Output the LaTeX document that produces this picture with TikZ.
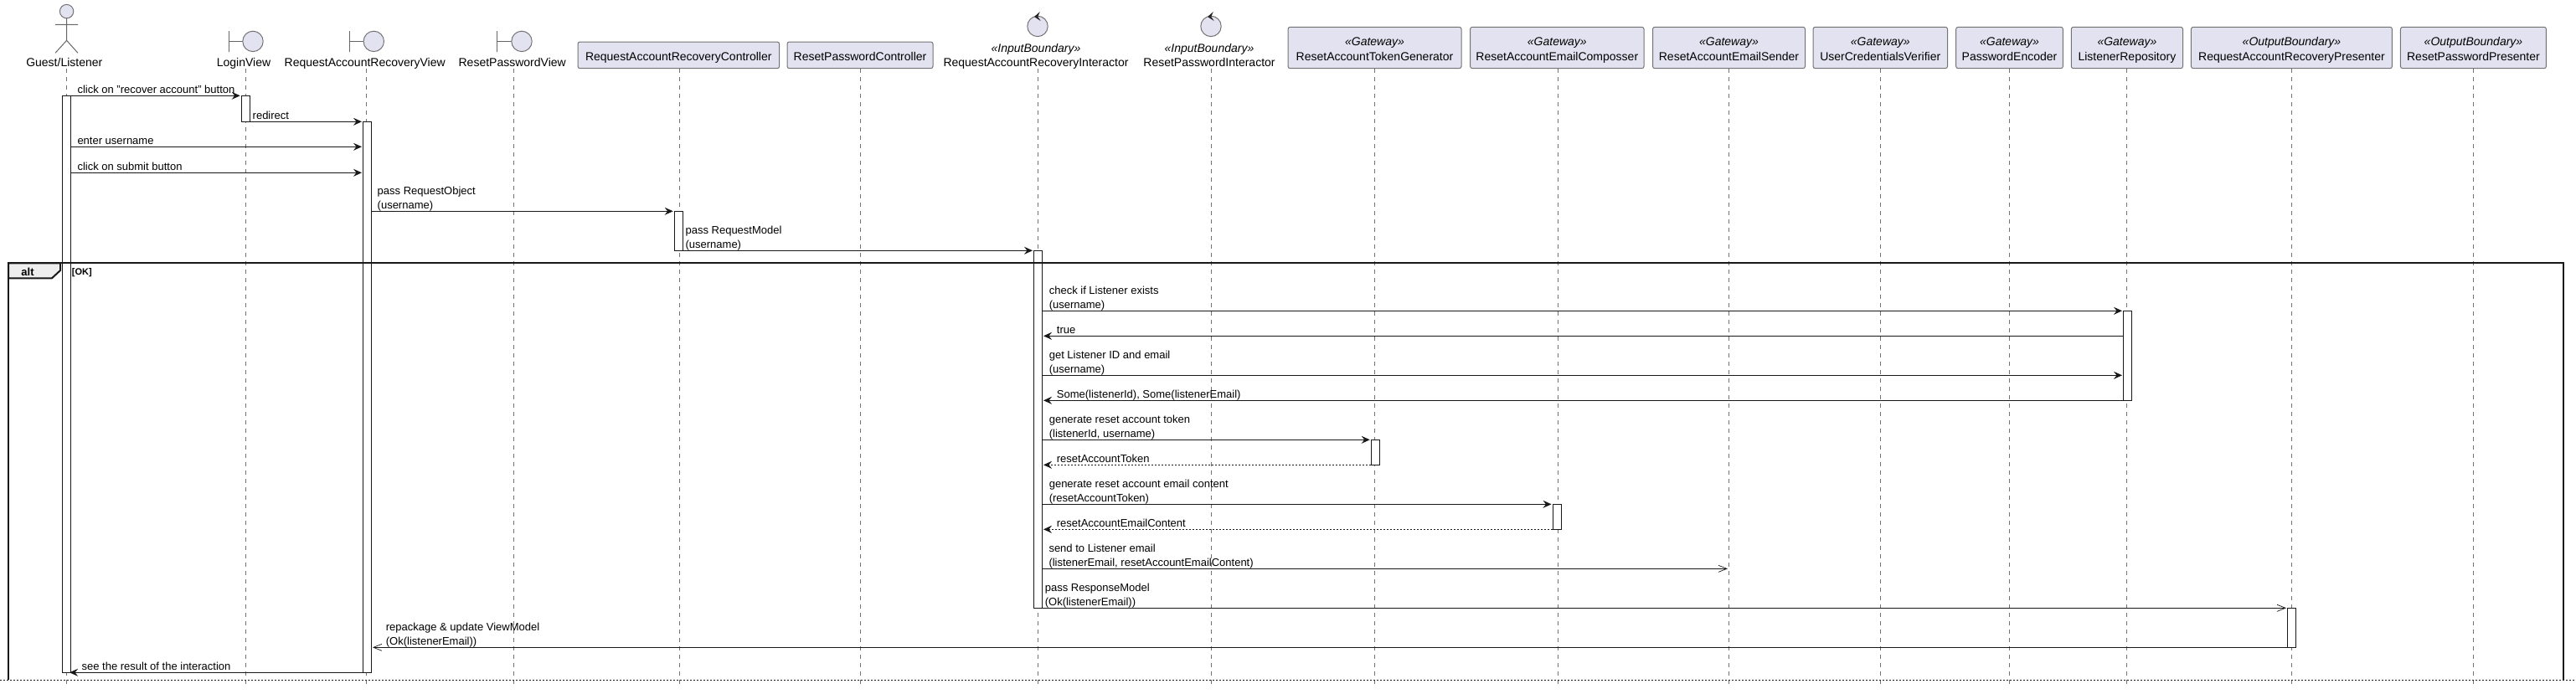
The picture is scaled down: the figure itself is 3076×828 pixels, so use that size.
\documentclass[tikz,border=0pt]{standalone}
\usepackage{fontspec}
\setmainfont{Liberation Sans}
\usetikzlibrary{arrows.meta, positioning}

\definecolor{partfill}{HTML}{E2E2F0}
\definecolor{inkline}{HTML}{181818}
\definecolor{tabfill}{HTML}{EEEEEE}

\tikzset{
    partbox/.style={draw=black!55, line width=1pt, fill=partfill, rounded corners=2.5pt, inner sep=0pt, align=center,
        text depth=2pt, font=\fontsize{14}{18}\selectfont},
    plainbox/.style={partbox, minimum height=31.7pt, text height=14.3pt},
    gatebox/.style={partbox, minimum height=49.4pt, text height=32pt},
    partlabel/.style={anchor=south, inner sep=0pt, align=center, font=\fontsize{14}{17}\selectfont,
        execute at end node=\strut},
    glyph/.style={draw=black!55, line width=1pt, fill=partfill},
    glyphline/.style={draw=black!60, line width=1pt},
    lifeline/.style={draw=black!55, line width=0.8pt, dash pattern=on 5pt off 5pt},
    actbar/.style={draw=inkline, line width=1pt, fill=white, minimum width=10pt, inner sep=0pt},
    syncmsg/.style={draw=inkline, line width=1pt, -{Stealth[length=10pt,width=9pt,inset=3.5pt]}, shorten >=1pt},
    replymsg/.style={syncmsg, dash pattern=on 2pt off 2pt},
    openmsg/.style={draw=inkline, line width=1pt, -{Straight Barb[length=10pt,width=8pt,line width=0.7pt]}, shorten >=1pt},
    msglabel/.style={anchor=south west, inner sep=0pt, align=left, yshift=-1.5pt, font=\fontsize{13}{16.9}\selectfont,
        execute at end node=\strut},
}

\begin{document}
\begin{tikzpicture}[x=1pt, y=-1pt]
    \useasboundingbox (0,0) rectangle (3076,828);

    % Lifeline ends
    \coordinate (lifeEnd) at (0,817);
    \coordinate (lGuest) at (79.6,82);
    \coordinate (lLogin) at (293,82);
    \coordinate (lView) at (437,82);
    \coordinate (lResetView) at (613,82);
    \coordinate (lCtrl) at (811,82);
    \coordinate (lResetCtrl) at (1027.5,82);
    \coordinate (lInter) at (1239,82);
    \coordinate (lResetInter) at (1446,82);
    \coordinate (lToken) at (1641,82);
    \coordinate (lComposer) at (1860,82);
    \coordinate (lSender) at (2064,82);
    \coordinate (lVerifier) at (2245,82);
    \coordinate (lEncoder) at (2399.5,82);
    \coordinate (lRepo) at (2539.2,82);
    \coordinate (lPres) at (2736.6,82);
    \coordinate (lResetPres) at (2953.4,82);

    % Lifelines
    \draw[lifeline] (lGuest) -- (lGuest |- lifeEnd);
    \draw[lifeline] (lLogin) -- (lLogin |- lifeEnd);
    \draw[lifeline] (lView) -- (lView |- lifeEnd);
    \draw[lifeline] (lResetView) -- (lResetView |- lifeEnd);
    \draw[lifeline] (lCtrl) -- (lCtrl |- lifeEnd);
    \draw[lifeline] (lResetCtrl) -- (lResetCtrl |- lifeEnd);
    \draw[lifeline] (lInter) -- (lInter |- lifeEnd);
    \draw[lifeline] (lResetInter) -- (lResetInter |- lifeEnd);
    \draw[lifeline] (lToken) -- (lToken |- lifeEnd);
    \draw[lifeline] (lComposer) -- (lComposer |- lifeEnd);
    \draw[lifeline] (lSender) -- (lSender |- lifeEnd);
    \draw[lifeline] (lVerifier) -- (lVerifier |- lifeEnd);
    \draw[lifeline] (lEncoder) -- (lEncoder |- lifeEnd);
    \draw[lifeline] (lRepo) -- (lRepo |- lifeEnd);
    \draw[lifeline] (lPres) -- (lPres |- lifeEnd);
    \draw[lifeline] (lResetPres) -- (lResetPres |- lifeEnd);

    % Actor
    \draw[glyph] (79.6,13.6) circle (8.2);
    \draw[glyphline] (79.6,21.8) -- (79.6,48.3) (66,29.3) -- (93,29.3) (66,63.3) -- (79.6,48.3) -- (93,63.3);
    \node[partlabel] (nGuest) at (76.8,85.1) {Guest/Listener};

    % Boundaries
    \draw[glyphline] (273,37) -- (273,61.7) (273,49.4) -- (290,49.4);
    \draw[glyph] (302,49.4) circle (12.2);
    \node[partlabel] (nLogin) at (291,85.1) {LoginView};
    \draw[glyphline] (417,37) -- (417,61.7) (417,49.4) -- (434,49.4);
    \draw[glyph] (446.3,49.4) circle (12.2);
    \node[partlabel] (nView) at (435.7,85.1) {RequestAccountRecoveryView};
    \draw[glyphline] (593,37) -- (593,61.7) (593,49.4) -- (611,49.4);
    \draw[glyph] (623,49.4) circle (12.2);
    \node[partlabel] (nResetView) at (611.7,85.1) {ResetPasswordView};

    % Controls
    \draw[glyph] (1239,31.4) circle (12.2);
    \fill[black!85] (1241.7,14) -- (1235,20) -- (1242.7,25) -- (1239.3,20) -- cycle;
    \node[partlabel] (nInter) at (1237,85.1) {\textit{«InputBoundary»}\\RequestAccountRecoveryInteractor};
    \draw[glyph] (1446,31.4) circle (12.2);
    \fill[black!85] (1448.7,14) -- (1442,20) -- (1449.7,25) -- (1446.3,20) -- cycle;
    \node[partlabel] (nResetInter) at (1444,85.1) {\textit{«InputBoundary»}\\ResetPasswordInteractor};

    % Controllers
    \node[plainbox, minimum width=240.6pt] (nCtrl) at (810.3,65.85) {RequestAccountRecoveryController};
    \node[plainbox, minimum width=174pt] (nResetCtrl) at (1027,65.85) {ResetPasswordController};

    % Gateways
    \node[gatebox, minimum width=207pt] (nToken) at (1641.5,57) {\textit{«Gateway»}\\ResetAccountTokenGenerator};
    \node[gatebox, minimum width=207.4pt] (nComposer) at (1859.3,57) {\textit{«Gateway»}\\ResetAccountEmailComposser};
    \node[gatebox, minimum width=182pt] (nSender) at (2064.5,57) {\textit{«Gateway»}\\ResetAccountEmailSender};
    \node[gatebox, minimum width=160.5pt] (nVerifier) at (2245.25,57) {\textit{«Gateway»}\\UserCredentialsVerifier};
    \node[gatebox, minimum width=127.7pt] (nEncoder) at (2399.5,57) {\textit{«Gateway»}\\PasswordEncoder};
    \node[gatebox, minimum width=133.2pt] (nRepo) at (2539.9,57) {\textit{«Gateway»}\\ListenerRepository};

    % Presenters
    \node[gatebox, minimum width=240pt] (nPres) at (2736.45,57) {\textit{«OutputBoundary»}\\RequestAccountRecoveryPresenter};
    \node[gatebox, minimum width=174pt] (nResetPres) at (2953.45,57) {\textit{«OutputBoundary»}\\ResetPasswordPresenter};

    % Activation bars
    \node[actbar, minimum height=689pt] (barGuest) at (79.6,458.8) {};
    \node[actbar, minimum height=31pt] (barLogin) at (293.2,129.8) {};
    \node[actbar, minimum height=658pt] (barView) at (438.5,474.3) {};
    \node[actbar, minimum height=47pt] (barCtrl) at (810.2,275.8) {};
    \node[actbar, minimum height=427pt] (barInter) at (1239.5,512.8) {};
    \node[actbar, minimum height=107pt] (barRepo) at (2540.5,424.8) {};
    \node[actbar, minimum height=30pt] (barToken) at (1642.2,540.3) {};
    \node[actbar, minimum height=30pt] (barComposer) at (1859,617.3) {};
    \node[actbar, minimum height=47pt] (barPres) at (2736.5,749.8) {};

    % Alt frame
    \draw[draw=inkline, line width=2pt, fill=tabfill] (10,332.3) -- (10,314.3) -- (72,314.3) -- (72,323) -- (62,332.3) -- cycle;
    \draw[draw=inkline, line width=2pt] (10,812) -- (10,314.3) -- (3060.8,314.3) -- (3060.8,812);
    \draw[draw=inkline, line width=1pt, dash pattern=on 2pt off 2pt] (0,812) -- (3076,812);
    \node[anchor=base, inner sep=0pt, font=\fontsize{13}{15}\selectfont\bfseries] (altTitle) at (33,329) {alt};
    \node[anchor=base west, inner sep=0pt, font=\fontsize{11}{13}\selectfont\bfseries] (altGuard) at (85.7,328) {[OK]};

    % Message rows
    \coordinate (mClick) at (0,114.3);
    \coordinate (mRedirect) at (0,145.3);
    \coordinate (mEnter) at (0,175.3);
    \coordinate (mSubmit) at (0,206.3);
    \coordinate (mObject) at (0,252.3);
    \coordinate (mModel) at (0,299.3);
    \coordinate (mCheck) at (0,371.3);
    \coordinate (mTrue) at (0,401.3);
    \coordinate (mGet) at (0,448.3);
    \coordinate (mSome) at (0,478.3);
    \coordinate (mGenToken) at (0,525.3);
    \coordinate (mToken) at (0,555.3);
    \coordinate (mGenMail) at (0,602.3);
    \coordinate (mMail) at (0,632.3);
    \coordinate (mSend) at (0,679.3);
    \coordinate (mResponse) at (0,726.3);
    \coordinate (mRepack) at (0,773.3);
    \coordinate (mResult) at (0,803.3);

    % Messages
    \draw[syncmsg] (barGuest.east |- mClick) -- (barLogin.west |- mClick);
    \draw[syncmsg] (barLogin.east |- mRedirect) -- (barView.west |- mRedirect);
    \draw[syncmsg] (barGuest.east |- mEnter) -- (barView.west |- mEnter);
    \draw[syncmsg] (barGuest.east |- mSubmit) -- (barView.west |- mSubmit);
    \draw[syncmsg] (barView.east |- mObject) -- (barCtrl.west |- mObject);
    \draw[syncmsg] (barCtrl.east |- mModel) -- (barInter.west |- mModel);
    \draw[syncmsg] (barInter.east |- mCheck) -- (barRepo.west |- mCheck);
    \draw[syncmsg] (barRepo.west |- mTrue) -- (barInter.east |- mTrue);
    \draw[syncmsg] (barInter.east |- mGet) -- (barRepo.west |- mGet);
    \draw[syncmsg] (barRepo.west |- mSome) -- (barInter.east |- mSome);
    \draw[syncmsg] (barInter.east |- mGenToken) -- (barToken.west |- mGenToken);
    \draw[replymsg] (barToken.west |- mToken) -- (barInter.east |- mToken);
    \draw[syncmsg] (barInter.east |- mGenMail) -- (barComposer.west |- mGenMail);
    \draw[replymsg] (barComposer.west |- mMail) -- (barInter.east |- mMail);
    \draw[openmsg] (barInter.east |- mSend) -- (lSender |- mSend);
    \draw[openmsg] (barInter.east |- mResponse) -- (barPres.west |- mResponse);
    \draw[openmsg] (barPres.west |- mRepack) -- (barView.east |- mRepack);
    \draw[syncmsg, shorten >=-2pt] (barView.west |- mResult) -- (barGuest.east |- mResult);

    % Message labels
    \node[msglabel] (tClick) at (92.3,115.1) {click on "recover account" button};
    \node[msglabel] (tRedirect) at (301.5,146.1) {redirect};
    \node[msglabel] (tEnter) at (92.3,176.1) {enter username};
    \node[msglabel] (tSubmit) at (92.3,207.1) {click on submit button};
    \node[msglabel] (tObject) at (450.5,253.1) {pass RequestObject\\(username)};
    \node[msglabel] (tModel) at (818.4,300.1) {pass RequestModel\\(username)};
    \node[msglabel] (tCheck) at (1252.6,372.1) {check if Listener exists\\(username)};
    \node[msglabel] (tTrue) at (1261.7,402.1) {true};
    \node[msglabel] (tGet) at (1252.6,449.1) {get Listener ID and email\\(username)};
    \node[msglabel] (tSome) at (1261.7,479.1) {Some(listenerId), Some(listenerEmail)};
    \node[msglabel] (tGenToken) at (1252.6,526.1) {generate reset account token\\(listenerId, username)};
    \node[msglabel] (tToken) at (1261.7,556.1) {resetAccountToken};
    \node[msglabel] (tGenMail) at (1252.6,603.1) {generate reset account email content\\(resetAccountToken)};
    \node[msglabel] (tMail) at (1261.7,633.1) {resetAccountEmailContent};
    \node[msglabel] (tSend) at (1252.3,680.1) {send to Listener email\\(listenerEmail, resetAccountEmailContent)};
    \node[msglabel] (tResponse) at (1247.6,727.1) {pass ResponseModel\\(Ok(listenerEmail))};
    \node[msglabel] (tRepack) at (460.7,774.1) {repackage \& update ViewModel\\(Ok(listenerEmail))};
    \node[msglabel] (tResult) at (97.4,804.1) {see the result of the interaction};
\end{tikzpicture}
\end{document}
